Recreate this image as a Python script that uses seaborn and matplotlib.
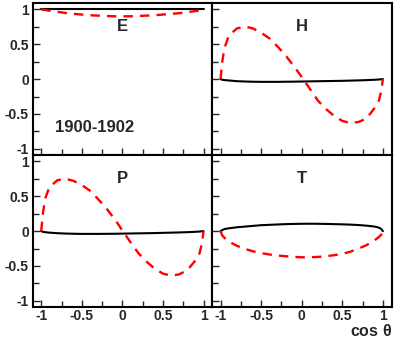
import numpy as np
import pandas as pd
import matplotlib
matplotlib.use("Agg")
import matplotlib.pyplot as plt
from matplotlib.ticker import MultipleLocator
import seaborn as sns

# ---------------------------------------------------------------------------
# Data
# ---------------------------------------------------------------------------

cos_theta = [-1, -0.98, -0.95, -0.9, -0.8, -0.7, -0.6, -0.5, -0.4, -0.3, -0.2, -0.1,
             0, 0.1, 0.2, 0.3, 0.4, 0.5, 0.6, 0.7, 0.8, 0.9, 0.95, 0.98, 1]

E_solid = [1.0] * 25
E_dashed = [1.0, 0.995, 0.99, 0.98, 0.965, 0.947, 0.935, 0.925, 0.915, 0.91, 0.905, 0.9,
            0.9, 0.9, 0.905, 0.91, 0.915, 0.925, 0.935, 0.945, 0.96, 0.975, 0.985, 0.993, 1.0]

H_solid = [0, -0.01, -0.015, -0.02, -0.03, -0.035, -0.038, -0.04, -0.04, -0.04, -0.038, -0.037,
           -0.035, -0.033, -0.031, -0.029, -0.027, -0.025, -0.022, -0.019, -0.015, -0.01, -0.006, -0.003, 0]
H_dashed = [0, 0.25, 0.45, 0.62, 0.725, 0.755, 0.725, 0.665, 0.585, 0.47, 0.34, 0.19,
            0.03, -0.14, -0.31, -0.43, -0.53, -0.6, -0.63, -0.615, -0.565, -0.41, -0.31, -0.17, 0]

P_solid = [0, -0.01, -0.016, -0.022, -0.03, -0.035, -0.038, -0.04, -0.04, -0.04, -0.039, -0.038,
           -0.036, -0.034, -0.032, -0.03, -0.028, -0.025, -0.022, -0.019, -0.015, -0.01, -0.006, -0.003, 0]
P_dashed = [0, 0.25, 0.47, 0.63, 0.73, 0.75, 0.72, 0.66, 0.58, 0.46, 0.33, 0.18,
            0.01, -0.16, -0.32, -0.44, -0.54, -0.61, -0.64, -0.62, -0.56, -0.42, -0.32, -0.18, 0]

T_solid = [0, 0.015, 0.03, 0.04, 0.055, 0.065, 0.075, 0.085, 0.09, 0.095, 0.1, 0.103,
           0.105, 0.106, 0.105, 0.103, 0.1, 0.097, 0.093, 0.087, 0.078, 0.065, 0.05, 0.03, 0]
T_dashed = [0, -0.06, -0.1, -0.15, -0.21, -0.255, -0.29, -0.315, -0.335, -0.35, -0.36, -0.37,
            -0.375, -0.375, -0.37, -0.36, -0.345, -0.325, -0.295, -0.25, -0.2, -0.13, -0.085, -0.05, 0]

panels = [
    ("E", E_solid, E_dashed),
    ("H", H_solid, H_dashed),
    ("P", P_solid, P_dashed),
    ("T", T_solid, T_dashed),
]

# ---------------------------------------------------------------------------
# Plot
# ---------------------------------------------------------------------------

sns.set_style("ticks")
plt.rcParams["font.family"] = ["Liberation Sans", "DejaVu Sans"]
plt.rcParams["font.weight"] = "bold"

fig, axes = plt.subplots(2, 2, figsize=(3.99, 3.39), dpi=100, sharex=True, sharey=True)
fig.subplots_adjust(left=0.083, right=0.982, bottom=0.094, top=0.991, wspace=0, hspace=0)

for ax, (name, solid, dashed) in zip(axes.flat, panels):
    df = pd.DataFrame({"x": cos_theta, "solid": solid, "dashed": dashed})
    sns.lineplot(data=df, x="x", y="solid", ax=ax, color="black", linewidth=1.5,
                 estimator=None, sort=False)
    sns.lineplot(data=df, x="x", y="dashed", ax=ax, color="#ff0000", linewidth=1.7,
                 dashes=False, estimator=None, sort=False)
    ax.lines[-1].set_dashes([4, 3])

    ax.set_xlim(-1.1, 1.11)
    ax.set_ylim(-1.09, 1.09)
    ax.xaxis.set_major_locator(MultipleLocator(0.5))
    ax.xaxis.set_minor_locator(MultipleLocator(0.25))
    ax.yaxis.set_major_locator(MultipleLocator(0.5))
    ax.yaxis.set_minor_locator(MultipleLocator(0.25))
    ax.tick_params(which="both", direction="in", width=1.0, labelsize=10)
    ax.tick_params(axis="x", pad=1.5)
    ax.tick_params(axis="y", pad=3)
    ax.tick_params(which="major", length=5)
    ax.tick_params(which="minor", length=4)
    for s in ax.spines.values():
        s.set_linewidth(1.5)
        s.set_color("black")
    ax.set_xlabel("")
    ax.set_ylabel("")
    ax.text(0.0, 0.76, name, fontsize=12, fontweight="bold", ha="center", va="center")

    ax.xaxis.set_major_formatter(plt.FuncFormatter(lambda v, p: f"{v:g}"))
    ax.yaxis.set_major_formatter(plt.FuncFormatter(lambda v, p: f"{v:g}"))

for ax in axes[0]:
    ax.tick_params(labelbottom=False)
for ax in axes[:, 1]:
    ax.tick_params(labelleft=False)

axes[0, 0].text(-0.34, -0.70, "1900-1902", fontsize=12, fontweight="bold",
                ha="center", va="center")

fig.text(0.982, 0.008, r"cos $\mathregular{\theta}$", fontsize=11.5, fontweight="bold",
         ha="right", va="baseline")

fig.savefig("out.png", dpi=100)
plt.close(fig)
